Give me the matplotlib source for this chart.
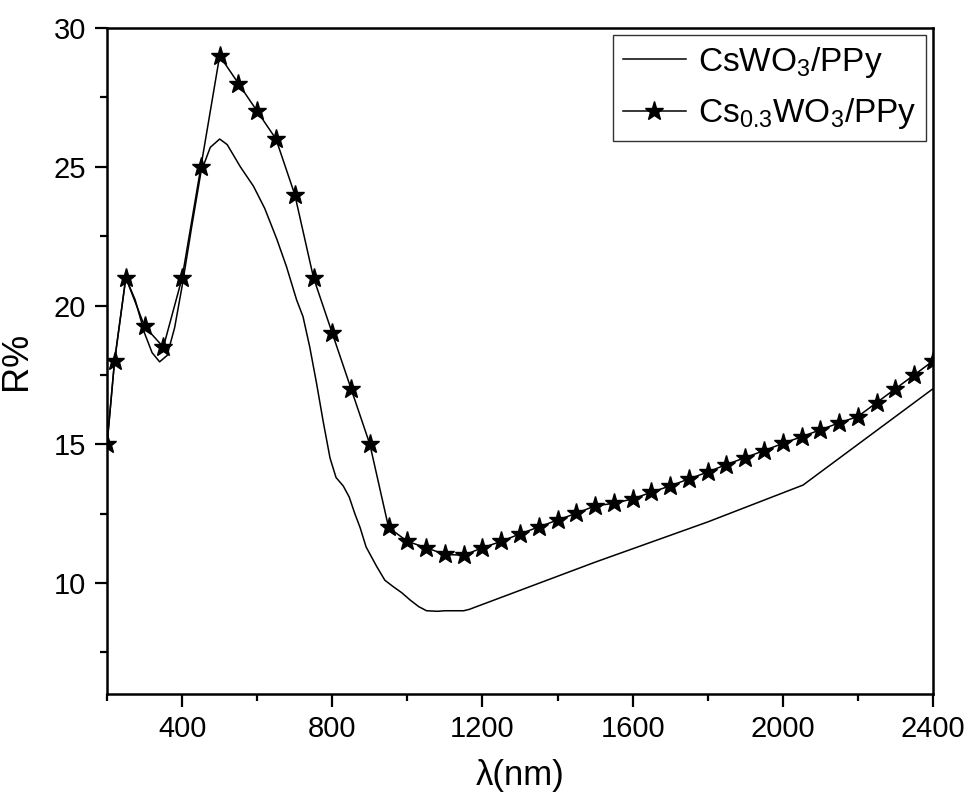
import numpy as np, matplotlib; matplotlib.use("Agg")
import matplotlib.pyplot as plt
from matplotlib.ticker import MultipleLocator

plt.rcParams['font.family']=['Liberation Sans','DejaVu Sans']
plt.rcParams['mathtext.fontset']='custom'; plt.rcParams['mathtext.rm']='Liberation Sans'
plt.rcParams['mathtext.it']='Liberation Sans'

# Cs0.3WO3/PPy (star markers)
wl_star=[200,220,250,300,350,400,450,500,550,600,650,700,750,800,850,900,950,1000,1050,1100,1150,1200,1250,1300,
         1350,1400,1450,1500,1550,1600,1650,1700,1750,1800,1850,1900,1950,2000,2050,2100,2150,2200,2250,2300,2350,2400]
r_star=[15,18,21,19.25,18.5,21,25,29,28,27,26,24,21,19,17,15,12,11.5,11.27,11.03,11.0,11.27,11.5,11.77,
        12.02,12.27,12.51,12.78,12.87,13.03,13.27,13.5,13.75,14.0,14.27,14.52,14.77,15.03,15.27,15.52,15.77,16.0,16.5,17.0,17.5,18.0]
# CsWO3/PPy (plain line)
wl_line=[200,220,250,275,300,320,340,360,380,400,425,450,475,500,520,555,590,620,652,678,705,722,740,758,776,794,
         810,829,845,860,874,890,918,940,962,985,1007,1030,1051,1080,1100,1121,1150,1165,1500,1800,2054,2400]
r_line=[15,18,21,20.2,19,18.3,17.97,18.2,19.2,20.7,22.8,24.8,25.7,26,25.8,25,24.3,23.5,22.4,21.4,20.2,19.6,18.5,17.2,15.8,14.5,
        13.8,13.5,13.1,12.5,12.0,11.3,10.6,10.1,9.87,9.65,9.39,9.15,9.0,8.98,9.0,9.0,9.0,9.05,10.75,12.2,13.53,17.0]

fig=plt.figure(figsize=(9.67,8.01),dpi=100)
ax=fig.add_axes([0.1107,0.1336,0.8541,0.8314])
ax.plot(wl_line,r_line,color='black',lw=1.1,label=r'CsWO$_3$/PPy')
ax.plot(wl_star,r_star,color='black',lw=1.1,marker='*',ms=14,label=r'Cs$_{0.3}$WO$_3$/PPy')

ax.set_xlim(200,2400); ax.set_ylim(6,30)
ax.xaxis.set_major_locator(MultipleLocator(400)); ax.xaxis.set_minor_locator(MultipleLocator(200))
ax.yaxis.set_major_locator(MultipleLocator(5)); ax.yaxis.set_minor_locator(MultipleLocator(2.5))
ax.set_xticks([400,800,1200,1600,2000,2400])
ax.tick_params(which='major',direction='out',length=9,width=1.6,labelsize=21,pad=6)
ax.tick_params(which='minor',direction='out',length=5,width=1.6)
for sp in ax.spines.values(): sp.set_linewidth(1.8)
ax.set_xlabel("λ(nm)",fontsize=25,labelpad=12); ax.set_ylabel("R%",fontsize=26,labelpad=14)

leg=ax.legend(loc='upper right',fontsize=24,frameon=True,fancybox=False,handlelength=1.9,handletextpad=0.35,
              borderaxespad=0.2,borderpad=0.3,labelspacing=0.5)
leg.get_frame().set_edgecolor('black'); leg.get_frame().set_linewidth(1.0)

fig.savefig("out.png",dpi=100)
